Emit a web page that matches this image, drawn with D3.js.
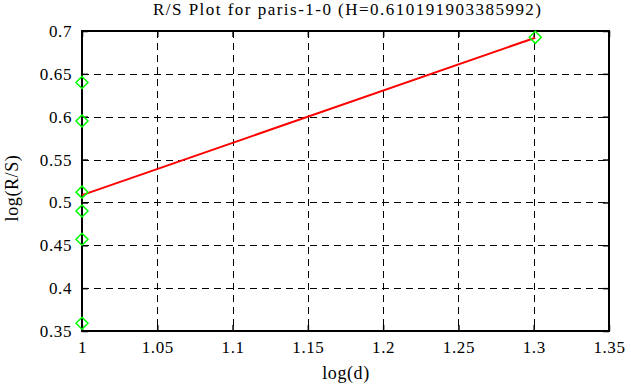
<!DOCTYPE html>
<html>
<head>
<meta charset="utf-8">
<script src="https://cdn.jsdelivr.net/npm/d3@7"></script>
<style>
  body { margin: 0; background: #fff; }
</style>
</head>
<body>
<svg id="chart" width="631" height="387"></svg>
<script>
// log10 of window size vs log10 of rescaled range
var pointX = [1, 1, 1, 1, 1, 1, 1.30103];
var pointY = [0.640, 0.595, 0.512, 0.490, 0.457, 0.359, 0.6926];
var fitX = [1, 1.30103];
var fitY = [0.5085, 0.6922];
var xTicks = [1, 1.05, 1.1, 1.15, 1.2, 1.25, 1.3, 1.35];
var yTicks = [0.35, 0.4, 0.45, 0.5, 0.55, 0.6, 0.65, 0.7];
var title = "R/S Plot for paris-1-0 (H=0.610191903385992)";

var FONT = "'Liberation Serif', 'Times New Roman', serif";
var svg = d3.select("#chart");
var margin = {left: 82, right: 22, top: 31, bottom: 56};
var W = 631, H = 387;
var x = d3.scaleLinear().domain([1, 1.35]).range([margin.left, W - margin.right]);
var y = d3.scaleLinear().domain([0.35, 0.7]).range([H - margin.bottom, margin.top]);

// grid
var grid = svg.append("g").attr("stroke", "#000").attr("stroke-width", 1)
    .attr("stroke-dasharray", "7,5").attr("shape-rendering", "crispEdges");
grid.selectAll("line.gx").data(xTicks.slice(1, -1)).enter().append("line")
    .attr("x1", function(d) { return Math.round(x(d)) + 0.5; })
    .attr("x2", function(d) { return Math.round(x(d)) + 0.5; })
    .attr("y1", y(0.7)).attr("y2", y(0.35));
grid.selectAll("line.gy").data(yTicks.slice(1, -1)).enter().append("line")
    .attr("y1", function(d) { return Math.round(y(d)) + 0.5; })
    .attr("y2", function(d) { return Math.round(y(d)) + 0.5; })
    .attr("x1", x(1)).attr("x2", x(1.35));

// axes
var fmt = function(d) { return String(+d.toFixed(2)); };
var xAxis = svg.append("g").attr("transform", "translate(0," + y(0.35) + ")")
    .call(d3.axisBottom(x).tickValues(xTicks).tickFormat(fmt).tickSize(-6).tickPadding(10));
var yAxis = svg.append("g").attr("transform", "translate(" + x(1) + ",0)")
    .call(d3.axisLeft(y).tickValues(yTicks).tickFormat(fmt).tickSize(-6).tickPadding(10));
svg.append("g").attr("transform", "translate(0," + y(0.7) + ")")
    .call(d3.axisTop(x).tickValues(xTicks).tickFormat("").tickSize(-6));
svg.append("g").attr("transform", "translate(" + x(1.35) + ",0)")
    .call(d3.axisRight(y).tickValues(yTicks).tickFormat("").tickSize(-6));
svg.selectAll(".domain").remove();
svg.selectAll(".tick line").attr("stroke-width", 1.5);
svg.selectAll("g").attr("font-family", null);
svg.selectAll(".tick text")
    .attr("style", "font-family:" + FONT + ";font-size:17px;letter-spacing:0.6px");
yAxis.selectAll(".tick text").attr("dy", "0.32em");

svg.append("rect").attr("x", x(1)).attr("y", y(0.7))
    .attr("width", x(1.35) - x(1)).attr("height", y(0.35) - y(0.7))
    .attr("fill", "none").attr("stroke", "#000").attr("stroke-width", 2);

// fitted line
var fit = fitX.map(function(d, i) { return [d, fitY[i]]; });
svg.append("path").datum(fit)
    .attr("d", d3.line().x(function(d) { return x(d[0]); }).y(function(d) { return y(d[1]); }))
    .attr("stroke", "#ff0000").attr("stroke-width", 2).attr("fill", "none");

// points
var pts = pointX.map(function(d, i) { return [d, pointY[i]]; });
svg.selectAll("path.pt").data(pts).enter().append("path")
    .attr("class", "pt")
    .attr("transform", function(d) { return "translate(" + x(d[0]) + "," + y(d[1]) + ")"; })
    .attr("d", "M0,-6L6,0L0,6L-6,0Z")
    .attr("fill", "none").attr("stroke", "#00ff00").attr("stroke-width", 1.5);

// labels
svg.append("text").attr("x", 347).attr("y", 15)
    .attr("text-anchor", "middle")
    .attr("textLength", 388).attr("lengthAdjust", "spacing")
    .attr("style", "font-family:" + FONT + ";font-size:17px").text(title);
svg.append("text").attr("x", 346).attr("y", 379)
    .attr("text-anchor", "middle")
    .attr("style", "font-family:" + FONT + ";font-size:18px;letter-spacing:0.6px").text("log(d)");
svg.append("text").attr("transform", "translate(18,188) rotate(-90)")
    .attr("text-anchor", "middle")
    .attr("style", "font-family:" + FONT + ";font-size:18px;letter-spacing:0.6px").text("log(R/S)");
</script>
</body>
</html>
